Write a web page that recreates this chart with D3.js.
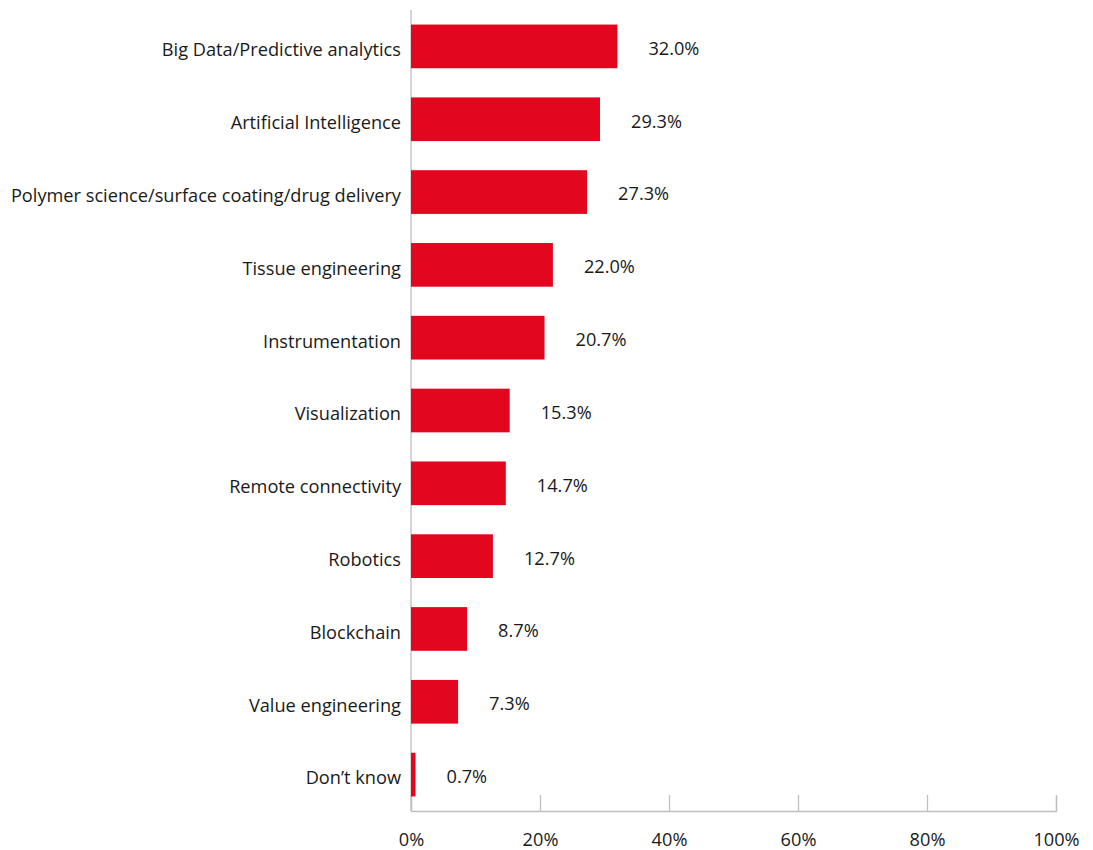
<!DOCTYPE html>
<html>
<head>
<meta charset="utf-8">
<script src="https://cdn.jsdelivr.net/npm/d3@7"></script>
<style>
  body { margin: 0; background: #fff; }
  text { font-family: "Open Sans", "Noto Sans", sans-serif; fill: #1a1a1a; }
</style>
</head>
<body>
<div id="chart"></div>
<script>
let categories = [
    "Big Data/Predictive analytics",
    "Artificial Intelligence",
    "Polymer science/surface coating/drug delivery",
    "Tissue engineering",
    "Instrumentation",
    "Visualization",
    "Remote connectivity",
    "Robotics",
    "Blockchain",
    "Value engineering",
    "Don\u2019t know"
];
let values = [32.0, 29.3, 27.3, 22.0, 20.7, 15.3, 14.7, 12.7, 8.7, 7.3, 0.7];
let xTicks = [0, 20, 40, 60, 80, 100];

let data = categories.map((c, i) => ({name: c, value: values[i]}));

let margin = {top: 10, right: 37, bottom: 39, left: 411},
    width = 1093 - margin.left - margin.right,
    height = 850 - margin.top - margin.bottom;

let svg = d3.select("#chart").append("svg")
    .attr("width", 1093)
    .attr("height", 850)
    .append("g")
    .attr("transform", "translate(" + margin.left + "," + margin.top + ")");

let xScale = d3.scaleLinear().domain([0, 100]).range([0, width]);
let yScale = d3.scaleBand()
    .domain(categories)
    .range([0, height])
    .paddingInner(0.4)
    .paddingOuter(0.2);

// bottom axis, ticks pointing up
let xAxis = svg.append("g")
    .attr("transform", "translate(0," + height + ")")
    .call(d3.axisBottom(xScale).tickValues(xTicks).tickSize(-16).tickFormat((d) => d + "%"));
xAxis.select(".domain").attr("stroke", "#bfbfbf").attr("stroke-width", 1.3);
xAxis.selectAll(".tick line").attr("stroke", "#bfbfbf").attr("stroke-width", 1.3);
xAxis.selectAll(".tick text")
    .attr("y", 22)
    .attr("dy", "0.71em")
    .style("font-size", "18.2px")
    .style("font-family", "\"Open Sans\", sans-serif")
    .attr("fill", "#1a1a1a");

// left axis line
svg.append("line")
    .attr("x1", 0).attr("x2", 0)
    .attr("y1", 0).attr("y2", height)
    .attr("stroke", "#bfbfbf")
    .attr("stroke-width", 1.3);

svg.selectAll(".bar")
    .data(data)
    .enter().append("rect")
    .attr("class", "bar")
    .attr("x", xScale(0))
    .attr("y", (d) => yScale(d.name))
    .attr("width", (d) => xScale(d.value) - xScale(0))
    .attr("height", yScale.bandwidth())
    .style("fill", "#e2061e");

svg.selectAll(".cat")
    .data(data)
    .enter().append("text")
    .attr("class", "cat")
    .attr("x", -10)
    .attr("y", (d) => yScale(d.name) + yScale.bandwidth() / 2 + 3.5)
    .attr("dy", "0.35em")
    .attr("text-anchor", "end")
    .style("font-size", "18.2px")
    .text((d) => d.name);

svg.selectAll(".val")
    .data(data)
    .enter().append("text")
    .attr("class", "val")
    .attr("x", (d) => xScale(d.value) + 31)
    .attr("y", (d) => yScale(d.name) + yScale.bandwidth() / 2 + 2)
    .attr("dy", "0.35em")
    .attr("text-anchor", "start")
    .style("font-size", "18.2px")
    .text((d) => d.value.toFixed(1) + "%");
</script>
</body>
</html>
